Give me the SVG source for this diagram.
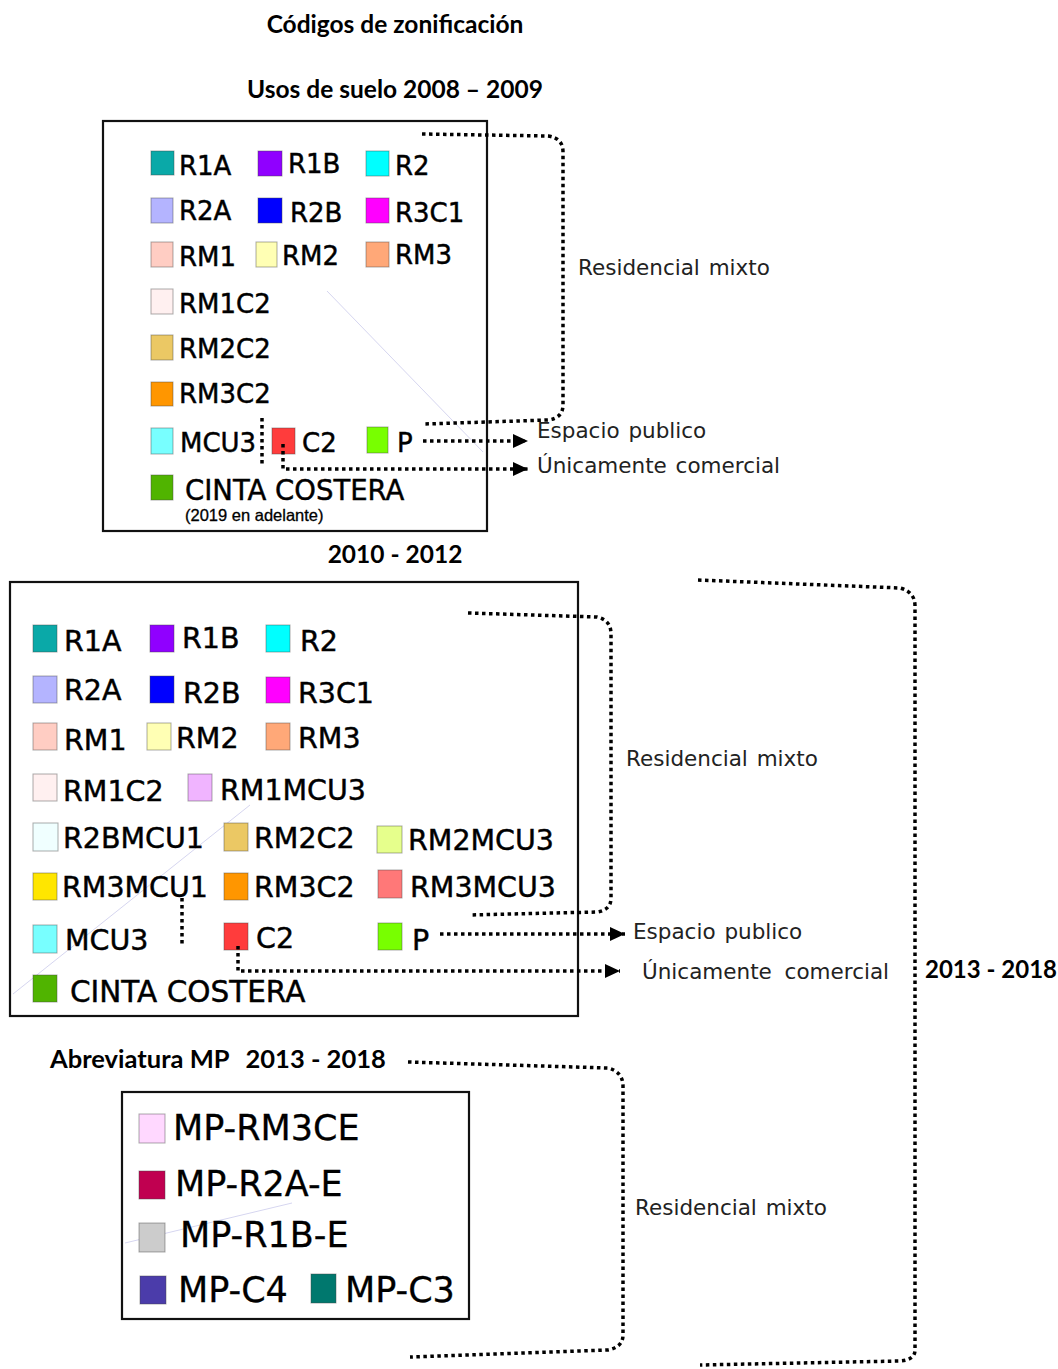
<svg xmlns="http://www.w3.org/2000/svg" width="1058" height="1369" viewBox="0 0 1058 1369">
<style>
.bg{fill:#fff}
.box{fill:none;stroke:#111;stroke-width:2.2}
.sw{stroke:#444;stroke-opacity:.45;stroke-width:1}
.t1{font-family:"DejaVu Sans",Verdana,sans-serif;font-size:26px;fill:#000;stroke:#000;stroke-width:0.45}
.t2{font-family:"DejaVu Sans",Verdana,sans-serif;font-size:28.5px;fill:#000;stroke:#000;stroke-width:0.45}
.t3{font-family:"DejaVu Sans",Verdana,sans-serif;font-size:35px;fill:#000;stroke:#000;stroke-width:0.3}
.lbl{font-family:"DejaVu Sans",Verdana,sans-serif;font-size:21.5px;fill:#222;word-spacing:2px}
.hd{font-family:Lato,"Liberation Sans",sans-serif;font-weight:bold;font-size:24.5px;fill:#000}
.sm{font-family:"Liberation Sans",Arial,sans-serif;font-size:16.5px;fill:#000;stroke:#000;stroke-width:0.3}
.dot{fill:none;stroke:#000;stroke-width:3.5;stroke-dasharray:3.5 3.5}
.faint{fill:none;stroke:#d6d6f0;stroke-width:1}
</style>
<defs>
<marker id="ah" markerUnits="userSpaceOnUse" markerWidth="15" markerHeight="15" viewBox="0 0 15 15" refX="15" refY="7.5" orient="auto">
<path d="M0,0.5 L15,7.5 L0,14.5 z" fill="#000"/>
</marker>
</defs>
<rect class="bg" x="0" y="0" width="1058" height="1369"/>

<g id="titles">
<text class="hd" x="395" y="33" text-anchor="middle">Códigos de zonificación</text>
<text class="hd" x="395" y="98" text-anchor="middle">Usos de suelo 2008 – 2009</text>
<text class="hd" x="395" y="563" text-anchor="middle">2010 - 2012</text>
<text class="hd" x="925" y="978" style="font-size:24px">2013 - 2018</text>
<text class="hd" x="50" y="1068" style="font-size:25.5px">Abreviatura MP<tspan dx="16">2013 - 2018</tspan></text>
</g>

<g id="faint-lines">
<line class="faint" x1="327" y1="291" x2="483" y2="452"/>
<line class="faint" x1="13" y1="994" x2="250" y2="805"/>
<line class="faint" x1="125" y1="1243" x2="292" y2="1203"/>
</g>

<g id="box-2008">
<rect class="box" x="103" y="121" width="384" height="410"/>
<g id="a-R1A"><rect class="sw" x="151" y="151" width="23" height="24" fill="#0aa9a8"/><text class="t1" x="179" y="175">R1A</text></g>
<g id="a-R1B"><rect class="sw" x="258" y="151" width="24" height="25" fill="#9000ff"/><text class="t1" x="288" y="173">R1B</text></g>
<g id="a-R2"><rect class="sw" x="366" y="151" width="23" height="25" fill="#00ffff"/><text class="t1" x="395" y="175">R2</text></g>
<g id="a-R2A"><rect class="sw" x="151" y="198" width="22" height="25" fill="#b4b4ff"/><text class="t1" x="179" y="220">R2A</text></g>
<g id="a-R2B"><rect class="sw" x="258" y="198" width="24" height="25" fill="#0000ff"/><text class="t1" x="290" y="222">R2B</text></g>
<g id="a-R3C1"><rect class="sw" x="366" y="198" width="23" height="25" fill="#ff00ff"/><text class="t1" x="395" y="222">R3C1</text></g>
<g id="a-RM1"><rect class="sw" x="151" y="242" width="22" height="25" fill="#ffcdc3"/><text class="t1" x="179" y="266">RM1</text></g>
<g id="a-RM2"><rect class="sw" x="256" y="242" width="21" height="25" fill="#ffffb4"/><text class="t1" x="282" y="265">RM2</text></g>
<g id="a-RM3"><rect class="sw" x="366" y="242" width="23" height="25" fill="#ffa878"/><text class="t1" x="395" y="264">RM3</text></g>
<g id="a-RM1C2"><rect class="sw" x="151" y="289" width="22" height="25" fill="#fff0f0"/><text class="t1" x="179" y="313">RM1C2</text></g>
<g id="a-RM2C2"><rect class="sw" x="151" y="335" width="22" height="25" fill="#ebc864"/><text class="t1" x="179" y="358">RM2C2</text></g>
<g id="a-RM3C2"><rect class="sw" x="151" y="382" width="22" height="24" fill="#ff9600"/><text class="t1" x="179" y="403">RM3C2</text></g>
<g id="a-MCU3"><rect class="sw" x="151" y="428" width="22" height="26" fill="#78ffff"/><text class="t1" x="180" y="452">MCU3</text></g>
<g id="a-C2"><rect class="sw" x="272" y="428" width="23" height="26" fill="#ff3c3c"/><text class="t1" x="302" y="452">C2</text></g>
<g id="a-P"><rect class="sw" x="367" y="427" width="21" height="26" fill="#78ff00"/><text class="t1" x="397" y="452">P</text></g>
<g id="a-CINTA"><rect class="sw" x="151" y="475" width="22" height="25" fill="#50b400"/><text class="t1" x="185" y="500" style="font-size:27.5px">CINTA COSTERA</text><text class="sm" x="185" y="521">(2019 en adelante)</text></g>
</g>

<g id="box-2010">
<rect class="box" x="10" y="582" width="568" height="434"/>
<g id="b-R1A"><rect class="sw" x="33" y="625" width="24" height="27" fill="#0aa9a8"/><text class="t2" x="64" y="651">R1A</text></g>
<g id="b-R1B"><rect class="sw" x="150" y="625" width="24" height="27" fill="#9000ff"/><text class="t2" x="182" y="648">R1B</text></g>
<g id="b-R2"><rect class="sw" x="266" y="625" width="24" height="27" fill="#00ffff"/><text class="t2" x="300" y="651">R2</text></g>
<g id="b-R2A"><rect class="sw" x="33" y="676" width="24" height="27" fill="#b4b4ff"/><text class="t2" x="64" y="700">R2A</text></g>
<g id="b-R2B"><rect class="sw" x="150" y="676" width="24" height="27" fill="#0000ff"/><text class="t2" x="183" y="703">R2B</text></g>
<g id="b-R3C1"><rect class="sw" x="266" y="677" width="24" height="26" fill="#ff00ff"/><text class="t2" x="298" y="703">R3C1</text></g>
<g id="b-RM1"><rect class="sw" x="33" y="723" width="24" height="27" fill="#ffcdc3"/><text class="t2" x="64" y="750">RM1</text></g>
<g id="b-RM2"><rect class="sw" x="147" y="723" width="24" height="27" fill="#ffffb4"/><text class="t2" x="176" y="748">RM2</text></g>
<g id="b-RM3"><rect class="sw" x="266" y="723" width="24" height="27" fill="#ffa878"/><text class="t2" x="298" y="748">RM3</text></g>
<g id="b-RM1C2"><rect class="sw" x="33" y="774" width="24" height="27" fill="#fff0f0"/><text class="t2" x="63" y="801">RM1C2</text></g>
<g id="b-RM1MCU3"><rect class="sw" x="188" y="774" width="24" height="27" fill="#f0b4ff"/><text class="t2" x="220" y="800">RM1MCU3</text></g>
<g id="b-R2BMCU1"><rect class="sw" x="33" y="823" width="25" height="28" fill="#f0ffff"/><text class="t2" x="63" y="848">R2BMCU1</text></g>
<g id="b-RM2C2"><rect class="sw" x="224" y="823" width="24" height="28" fill="#ebc864"/><text class="t2" x="254" y="848">RM2C2</text></g>
<g id="b-RM2MCU3"><rect class="sw" x="377" y="826" width="25" height="27" fill="#e6ff8c"/><text class="t2" x="408" y="850">RM2MCU3</text></g>
<g id="b-RM3MCU1"><rect class="sw" x="33" y="873" width="24" height="27" fill="#ffe600"/><text class="t2" x="62" y="897">RM3MCU1</text></g>
<g id="b-RM3C2"><rect class="sw" x="224" y="873" width="24" height="27" fill="#ff9600"/><text class="t2" x="254" y="897">RM3C2</text></g>
<g id="b-RM3MCU3"><rect class="sw" x="378" y="870" width="24" height="28" fill="#ff7878"/><text class="t2" x="410" y="897">RM3MCU3</text></g>
<g id="b-MCU3"><rect class="sw" x="33" y="925" width="24" height="28" fill="#78ffff"/><text class="t2" x="65" y="950">MCU3</text></g>
<g id="b-C2"><rect class="sw" x="224" y="923" width="24" height="27" fill="#ff3c3c"/><text class="t2" x="256" y="948">C2</text></g>
<g id="b-P"><rect class="sw" x="378" y="923" width="24" height="27" fill="#78ff00"/><text class="t2" x="412" y="950">P</text></g>
<g id="b-CINTA"><rect class="sw" x="33" y="975" width="24" height="27" fill="#50b400"/><text class="t2" x="70" y="1002" style="font-size:29.5px">CINTA COSTERA</text></g>
</g>

<g id="box-mp">
<rect class="box" x="122" y="1092" width="347" height="227"/>
<g id="c-RM3CE"><rect class="sw" x="139" y="1114" width="26" height="29" fill="#ffd8ff"/><text class="t3" x="173" y="1140">MP-RM3CE</text></g>
<g id="c-R2AE"><rect class="sw" x="139" y="1171" width="26" height="28" fill="#c00050"/><text class="t3" x="175" y="1196">MP-R2A-E</text></g>
<g id="c-R1BE"><rect class="sw" x="139" y="1223" width="26" height="29" fill="#cccccc"/><text class="t3" x="180" y="1247">MP-R1B-E</text></g>
<g id="c-C4"><rect class="sw" x="140" y="1276" width="26" height="28" fill="#4b3caa"/><text class="t3" x="178" y="1302">MP-C4</text></g>
<g id="c-C3"><rect class="sw" x="311" y="1274" width="25" height="29" fill="#00786e"/><text class="t3" x="345" y="1302">MP-C3</text></g>
</g>

<g id="labels">
<text class="lbl" x="578" y="275">Residencial mixto</text>
<text class="lbl" x="537" y="438">Espacio publico</text>
<text class="lbl" x="537" y="473">Únicamente comercial</text>
<text class="lbl" x="626" y="766">Residencial mixto</text>
<text class="lbl" x="633" y="939">Espacio publico</text>
<text class="lbl" x="642" y="979" style="word-spacing:6px">Únicamente comercial</text>
<text class="lbl" x="635" y="1215">Residencial mixto</text>
</g>

<g id="connectors">
<path class="dot" d="M422 134 L548 136 Q563 138 563 152 L563 405 Q563 418 548 420 L425 424"/>
<path class="dot" d="M423 441 L528 441" marker-end="url(#ah)"/>
<path class="dot" d="M283 444 L283 469 L528 469" marker-end="url(#ah)"/>
<path class="dot" d="M262 418 L262 466"/>
<path class="dot" d="M468 613 L597 617 Q611 620 611 634 L611 898 Q611 910 597 912 L470 915"/>
<path class="dot" d="M440 934 L625 934" marker-end="url(#ah)"/>
<path class="dot" d="M238 946 L238 971 L620 971" marker-end="url(#ah)"/>
<path class="dot" d="M182 898 L182 946"/>
<path class="dot" d="M698 580 L900 588 Q915 592 915 606 L915 1350 Q915 1360 900 1361 L700 1365"/>
<path class="dot" d="M408 1062 L608 1068 Q623 1072 623 1086 L623 1335 Q623 1347 608 1350 L410 1357"/>
</g>
</svg>
